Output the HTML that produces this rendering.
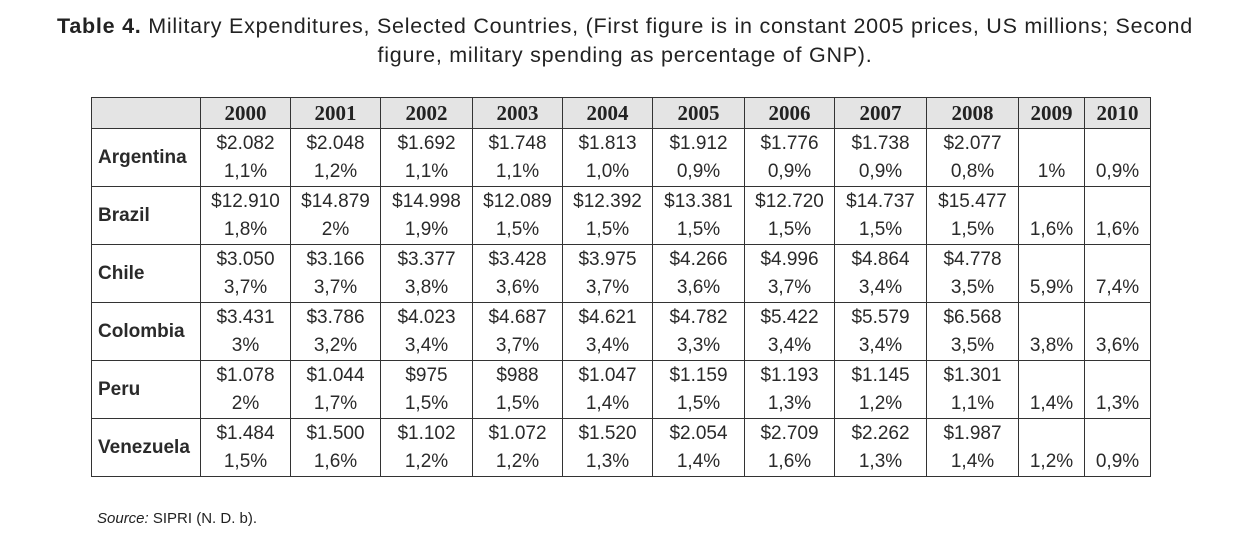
<!DOCTYPE html>
<html><head><meta charset="utf-8">
<style>
body{margin:0;width:1250px;height:550px;background:#fff;font-family:"Liberation Sans",sans-serif;color:#222;position:relative;overflow:hidden}
.title{position:absolute;left:0;width:1250px;top:12px;text-align:center;font-size:21.5px;letter-spacing:0.75px;line-height:29px;color:#222;white-space:nowrap}
.title b{font-weight:bold}
table{position:absolute;left:91px;top:97px;border-collapse:collapse;table-layout:fixed}
td,th{border:1.5px solid #333;padding:0;text-align:center;font-size:19px}
th{background:#e4e4e4;height:30px;font-family:"Liberation Serif",serif;font-weight:bold;font-size:21px}
td{height:56px;line-height:28px;vertical-align:top;padding-top:1px;color:#2a2a2a}
td.c{font-weight:bold;font-size:19px;vertical-align:middle;text-align:left;padding-left:6px;padding-top:0;height:57px;line-height:22px}
.src{position:absolute;left:97px;top:510px;font-size:15px}
</style></head><body>
<div class="title"><b>Table 4.</b> Military Expenditures, Selected Countries, (First figure is in constant 2005 prices, US millions; Second<br>figure, military spending as percentage of GNP).</div>
<table>
<colgroup><col style="width:109px"><col style="width:90px"><col style="width:90px"><col style="width:92px"><col style="width:90px"><col style="width:90px"><col style="width:92px"><col style="width:90px"><col style="width:92px"><col style="width:92px"><col style="width:66px"><col style="width:66px"></colgroup>
<tbody id="tb"></tbody>
</table>
<div class="src"><i>Source:</i> SIPRI (N. D. b).</div>
<script>
const years=["2000","2001","2002","2003","2004","2005","2006","2007","2008","2009","2010"];
const countries=["Argentina","Brazil","Chile","Colombia","Peru","Venezuela"];
const spend=[
["$2.082","$2.048","$1.692","$1.748","$1.813","$1.912","$1.776","$1.738","$2.077","",""],
["$12.910","$14.879","$14.998","$12.089","$12.392","$13.381","$12.720","$14.737","$15.477","",""],
["$3.050","$3.166","$3.377","$3.428","$3.975","$4.266","$4.996","$4.864","$4.778","",""],
["$3.431","$3.786","$4.023","$4.687","$4.621","$4.782","$5.422","$5.579","$6.568","",""],
["$1.078","$1.044","$975","$988","$1.047","$1.159","$1.193","$1.145","$1.301","",""],
["$1.484","$1.500","$1.102","$1.072","$1.520","$2.054","$2.709","$2.262","$1.987","",""]];
const pct=[
["1,1%","1,2%","1,1%","1,1%","1,0%","0,9%","0,9%","0,9%","0,8%","1%","0,9%"],
["1,8%","2%","1,9%","1,5%","1,5%","1,5%","1,5%","1,5%","1,5%","1,6%","1,6%"],
["3,7%","3,7%","3,8%","3,6%","3,7%","3,6%","3,7%","3,4%","3,5%","5,9%","7,4%"],
["3%","3,2%","3,4%","3,7%","3,4%","3,3%","3,4%","3,4%","3,5%","3,8%","3,6%"],
["2%","1,7%","1,5%","1,5%","1,4%","1,5%","1,3%","1,2%","1,1%","1,4%","1,3%"],
["1,5%","1,6%","1,2%","1,2%","1,3%","1,4%","1,6%","1,3%","1,4%","1,2%","0,9%"]];
const tb=document.getElementById('tb');
let hr=document.createElement('tr');


let e=document.createElement('th');hr.appendChild(e);
years.forEach(y=>{const th=document.createElement('th');th.textContent=y;


hr.appendChild(th);});
tb.appendChild(hr);
countries.forEach((c,i)=>{const tr=document.createElement('tr');


const tc=document.createElement('td');tc.className='c';tc.textContent=c;


tr.appendChild(tc);
years.forEach((y,j)=>{const td=document.createElement('td');


td.innerHTML=(spend[i][j]?spend[i][j]:'&nbsp;')+'<br>'+pct[i][j];
tr.appendChild(td);});
tb.appendChild(tr);});
</script>
</body></html>
